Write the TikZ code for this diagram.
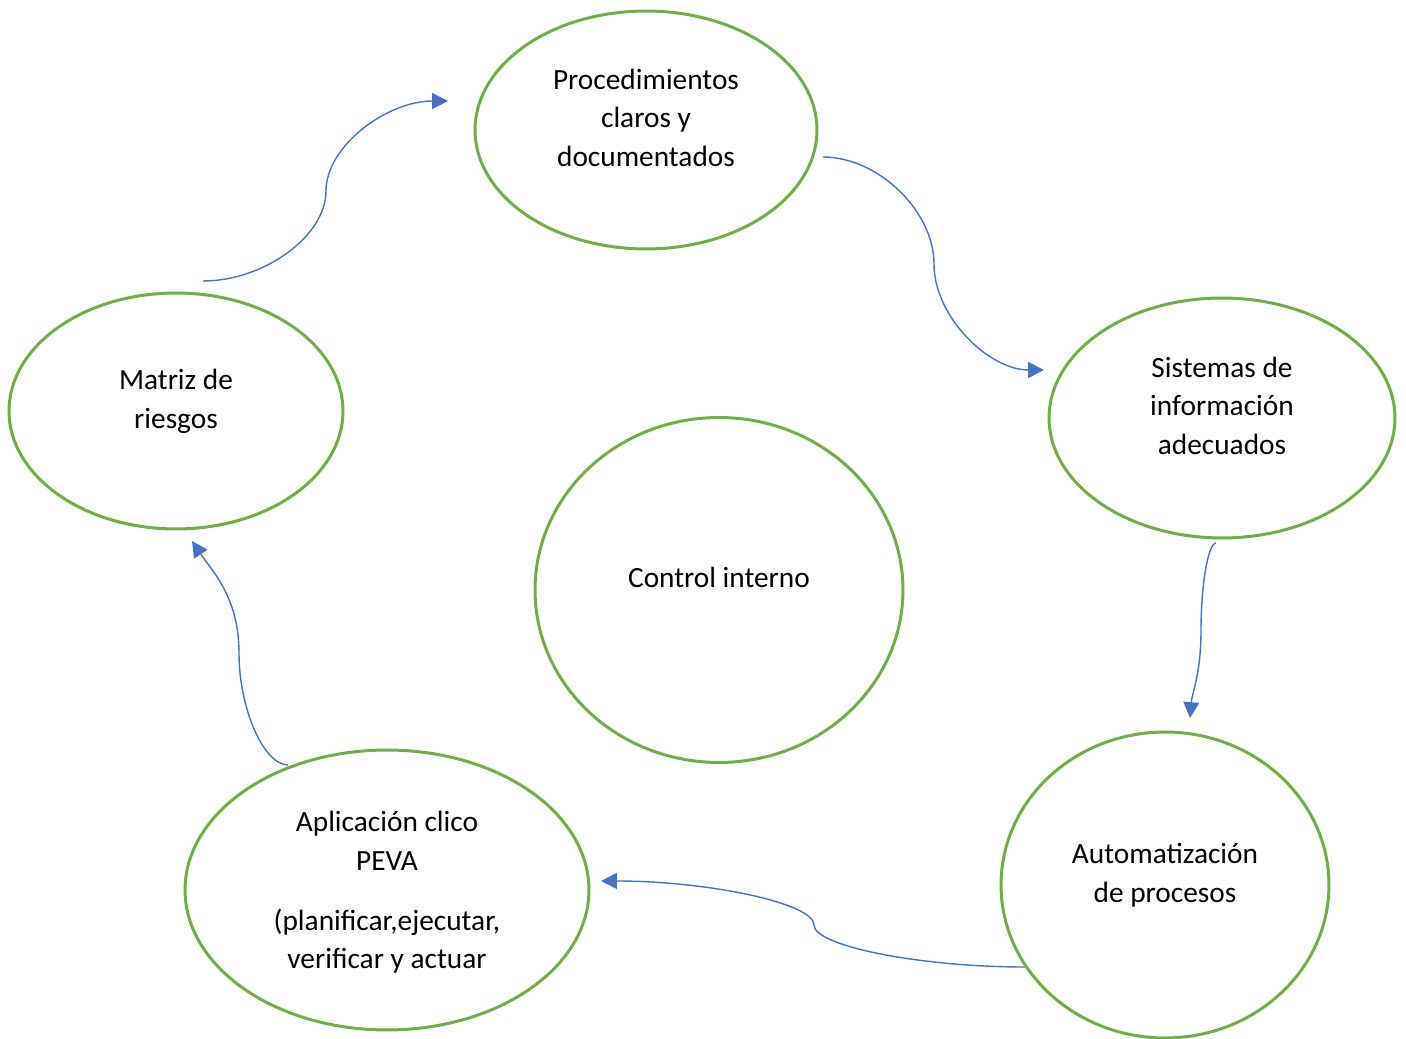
\documentclass[tikz,border=0pt]{standalone}
\usepackage{fontspec}
\setmainfont{Carlito}
\usetikzlibrary{positioning,arrows.meta,shapes.geometric}
\definecolor{verde}{RGB}{112,173,71}
\definecolor{azul}{RGB}{68,114,196}

\begin{document}
\begin{tikzpicture}[x=0.02cm,y=0.02cm,
	font=\fontsize{16.7}{22}\selectfont,
	comp/.style={ellipse,draw=verde,line width=1.7pt,inner sep=0pt,align=center,text depth=14pt},
	conn/.style={draw=azul,line width=0.8pt,-{Triangle[length=9pt,width=9pt]}}]
   \useasboundingbox (0,0) rectangle (1406,1038);

   % circulos
   \node [comp,minimum width=6.84cm,minimum height=4.76cm] (proc) at (646,908) {Procedimientos\\claros y\\documentados};
   \node [comp,minimum width=6.92cm,minimum height=4.8cm]  (sist) at (1222,620) {Sistemas de\\información\\adecuados};
   \node [comp,minimum width=6.56cm,minimum height=6.12cm] (auto) at (1165,153) {Automatización\\de procesos};
   \node [comp,minimum width=8.08cm,minimum height=5.6cm,text depth=0pt] (apli) at (387,148) {Aplicación clico\\PEVA\\[12pt](planificar,ejecutar,\\verificar y actuar};
   \node [comp,minimum width=6.68cm,minimum height=4.72cm] (matriz) at (176,627) {Matriz de\\riesgos};
   \node [comp,minimum width=7.36cm,minimum height=6.9cm]  (ctrl) at (719,448) {Control interno};

   % puntos de las flechas
   \coordinate (s1) at (203,757);  \coordinate (m1) at (326,847);  \coordinate (e1) at (448,937);
   \coordinate (s2) at (823,881);  \coordinate (m2) at (934,774);  \coordinate (e2) at (1044,668);
   \coordinate (s3) at (1216,495); \coordinate (m3) at (1201,408); \coordinate (e3) at (1190,320);
   \coordinate (s4) at (1025,71);  \coordinate (m4) at (814,113);  \coordinate (e4) at (601,157);
   \coordinate (s5) at (288,273);  \coordinate (m5) at (239,385);  \coordinate (e5) at (192,497);

   \draw [conn] (s1) .. controls +(61,0) and +(0,-45) .. (m1) .. controls +(0,45) and +(-61,0) .. (e1);
   \draw [conn] (s2) .. controls +(55,0) and +(0,53) .. (m2) .. controls +(0,-53) and +(-55,0) .. (e2);
   \draw [conn] (s3) .. controls +(-8,0) and +(0,44) .. (m3) .. controls +(0,-44) and +(2,25) .. (e3);
   \draw [conn] (s4) .. controls +(-105,0) and +(0,-21) .. (m4) .. controls +(0,22) and +(106,0) .. (e4);
   \draw [conn] (s5) .. controls +(-24,0) and +(0,-56) .. (m5) .. controls +(0,56) and +(20,-30) .. (e5);
\end{tikzpicture}
\end{document}
